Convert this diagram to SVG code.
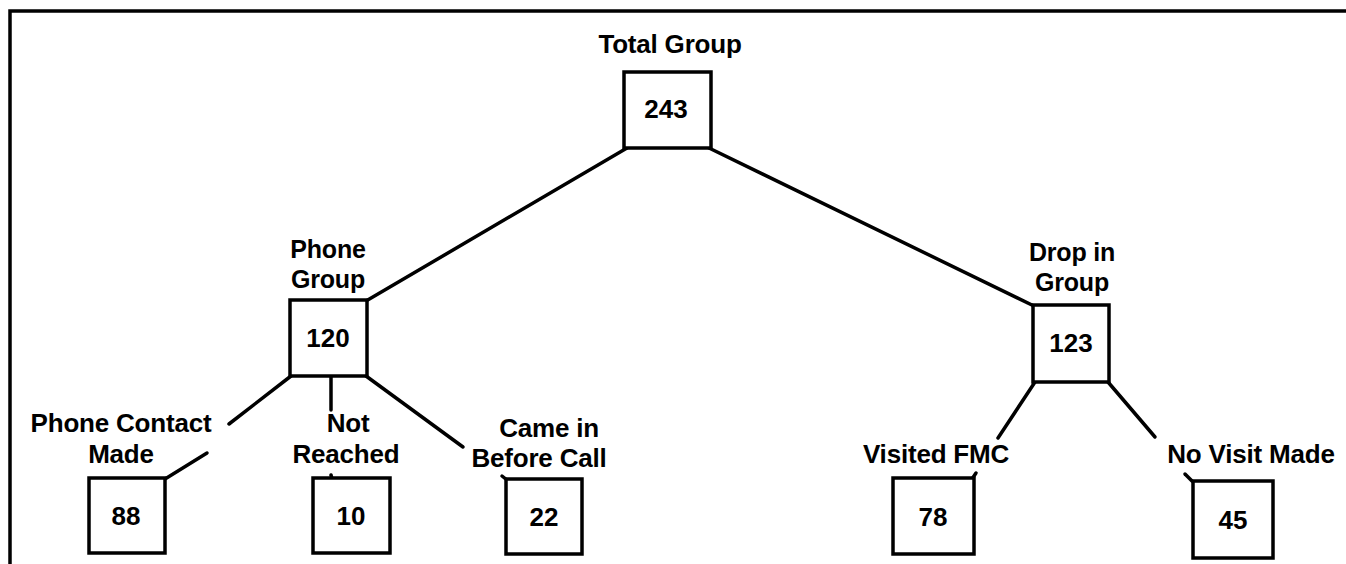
<svg xmlns="http://www.w3.org/2000/svg" width="1346" height="564" viewBox="0 0 1346 564">
<style>
.box{fill:#fff;stroke:#000;stroke-width:3.5}
.lbl{font-family:"Liberation Sans",Arial,sans-serif;font-weight:bold;font-size:26px;fill:#000;text-anchor:middle;letter-spacing:-0.2px}
.sm{font-size:25px}
.num{font-family:"Liberation Sans",Arial,sans-serif;font-weight:bold;font-size:26px;fill:#000;text-anchor:middle}
.ln{stroke:#000;stroke-width:3.5;fill:none;stroke-linecap:round}
</style>
<rect width="1346" height="564" fill="#fff"/>
<g id="frame"><path d="M10,564 V11 H1346" fill="none" stroke="#000" stroke-width="3.5"/></g>
<g id="connectors">
<line class="ln" x1="627" y1="148" x2="366" y2="301"/>
<line class="ln" x1="709" y1="148" x2="1034" y2="306"/>
<line class="ln" x1="291" y1="376" x2="229" y2="424"/>
<line class="ln" x1="207" y1="453" x2="165" y2="479"/>
<line class="ln" x1="331" y1="376" x2="331" y2="410"/>
<line class="ln" x1="331" y1="475" x2="332" y2="479"/>
<line class="ln" x1="366" y1="376" x2="463" y2="447"/>
<line class="ln" x1="502" y1="476" x2="507" y2="480"/>
<line class="ln" x1="1035" y1="382" x2="998" y2="438"/>
<line class="ln" x1="976" y1="473" x2="972" y2="479"/>
<line class="ln" x1="1108" y1="382" x2="1155" y2="437"/>
<line class="ln" x1="1185" y1="474" x2="1192" y2="481"/>
</g>
<g id="total">
<text class="lbl" x="670" y="53">Total Group</text>
<rect class="box" x="624" y="72" width="87" height="76"/>
<text class="num" x="666" y="118">243</text>
</g>
<g id="phone">
<text class="lbl sm" x="328" y="258">Phone</text>
<text class="lbl sm" x="328" y="288">Group</text>
<rect class="box" x="290" y="300" width="77" height="76"/>
<text class="num" x="328" y="347">120</text>
</g>
<g id="dropin">
<text class="lbl sm" x="1072" y="261">Drop in</text>
<text class="lbl sm" x="1072" y="291">Group</text>
<rect class="box" x="1033" y="305" width="76" height="77"/>
<text class="num" x="1071" y="352">123</text>
</g>
<g id="contact">
<text class="lbl" x="121" y="432">Phone Contact</text>
<text class="lbl" x="121" y="463">Made</text>
<rect class="box" x="89" y="478" width="76" height="75"/>
<text class="num" x="126" y="525">88</text>
</g>
<g id="notreached">
<text class="lbl" x="348" y="432">Not</text>
<text class="lbl" x="346" y="463">Reached</text>
<rect class="box" x="313" y="478" width="77" height="75"/>
<text class="num" x="351" y="525">10</text>
</g>
<g id="camein">
<text class="lbl" x="549" y="437">Came in</text>
<text class="lbl" x="539" y="467">Before Call</text>
<rect class="box" x="506" y="479" width="76" height="75"/>
<text class="num" x="544" y="526">22</text>
</g>
<g id="visited">
<text class="lbl" x="936" y="463">Visited FMC</text>
<rect class="box" x="893" y="478" width="81" height="76"/>
<text class="num" x="933" y="526">78</text>
</g>
<g id="novisit">
<text class="lbl" x="1251" y="463">No Visit Made</text>
<rect class="box" x="1193" y="481" width="80" height="77"/>
<text class="num" x="1233" y="529">45</text>
</g>
</svg>
